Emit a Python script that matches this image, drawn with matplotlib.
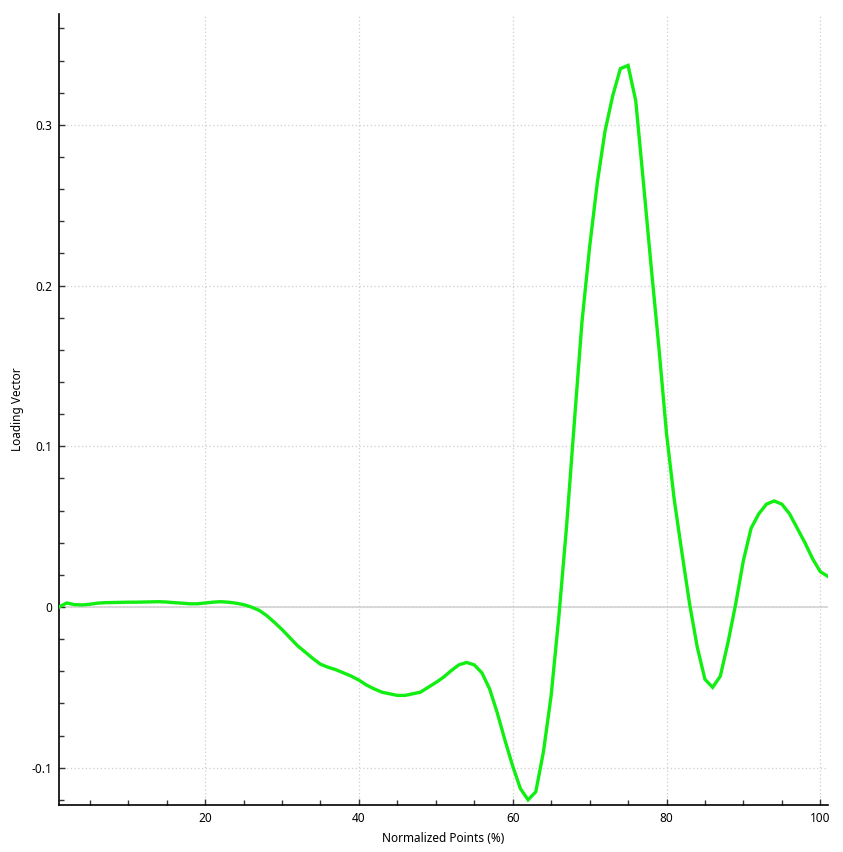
import matplotlib
matplotlib.use("Agg")
import matplotlib.pyplot as plt
from matplotlib.ticker import MultipleLocator, FuncFormatter

plt.rcParams['font.family'] = ['Noto Sans', 'DejaVu Sans']

x_points = list(range(1, 102))
loading = [
    0.0000, 0.0025, 0.0015, 0.0013, 0.0017, 0.0024, 0.0027, 0.0028, 0.0029, 0.0030,   # 1-10
    0.0030, 0.0031, 0.0032, 0.0033, 0.0031, 0.0027, 0.0024, 0.0020, 0.0020, 0.0025,   # 11-20
    0.0030, 0.0033, 0.0030, 0.0024, 0.0015, 0.0000, -0.0020, -0.0053, -0.0095, -0.0140, # 21-30
    -0.0190, -0.0240, -0.0280, -0.0320, -0.0356, -0.0375, -0.0390, -0.0410, -0.0430, -0.0455, # 31-40
    -0.0486, -0.0510, -0.0530, -0.0540, -0.0550, -0.0550, -0.0540, -0.0530, -0.0500, -0.0470, # 41-50
    -0.0437, -0.0396, -0.0360, -0.0345, -0.0360, -0.0410, -0.0510, -0.0660, -0.0830, -0.0990, # 51-60
    -0.1130, -0.1200, -0.1150, -0.0900, -0.0550, -0.0060, 0.0500, 0.1140, 0.1770, 0.2240,   # 61-70
    0.2640, 0.2960, 0.3180, 0.3350, 0.3370, 0.3150, 0.2640, 0.2120, 0.1620, 0.1080,       # 71-80
    0.0670, 0.0340, 0.0020, -0.0250, -0.0450, -0.0500, -0.0430, -0.0220, 0.0020, 0.0290,  # 81-90
    0.0490, 0.0580, 0.0640, 0.0660, 0.0640, 0.0580, 0.0490, 0.0400, 0.0300, 0.0220,      # 91-100
    0.0190,                                                                               # 101
]

x_major = [20, 40, 60, 80, 100]
y_major = [-0.1, 0.0, 0.1, 0.2, 0.3]

fig = plt.figure(figsize=(8.43, 8.52), dpi=100)
ax = fig.add_axes([59/843, 1-805/852, (828-59)/843, (805-14)/852])

ax.axhline(0, color='#d4d4d4', lw=1.2, zorder=1)
ax.plot(x_points, loading, color='#11ee11', lw=2.4, zorder=3, solid_joinstyle='miter')

ax.set_xlim(1, 101)
ax.set_ylim(-0.1232, 0.369)

ax.xaxis.set_major_locator(MultipleLocator(20))
ax.xaxis.set_minor_locator(MultipleLocator(5))
ax.yaxis.set_major_locator(MultipleLocator(0.1))
ax.yaxis.set_minor_locator(MultipleLocator(0.02))

def yfmt(v, pos):
    if abs(v) < 1e-9:
        return '0'
    return f'{v:.1f}'

ax.yaxis.set_major_formatter(FuncFormatter(yfmt))
ax.xaxis.set_major_formatter(FuncFormatter(lambda v, p: f'{int(round(v))}'))

ax.grid(True, which='major', color='#cfcfcf', linestyle=(0, (1, 2)), lw=0.9, zorder=0)

for s in ['top', 'right']:
    ax.spines[s].set_visible(False)
for s in ['left', 'bottom']:
    ax.spines[s].set_color('black')
    ax.spines[s].set_linewidth(1.2)

ax.tick_params(which='both', direction='in', color='#333333', width=1)
ax.tick_params(which='major', length=4, labelsize=8.5, pad=5)
ax.tick_params(which='minor', length=3.5)

ax.set_xlabel('Normalized Points (%)', fontsize=8.5, labelpad=5)
ax.set_ylabel('Loading Vector', fontsize=8.5, labelpad=5)

fig.savefig('out.png', dpi=100)
